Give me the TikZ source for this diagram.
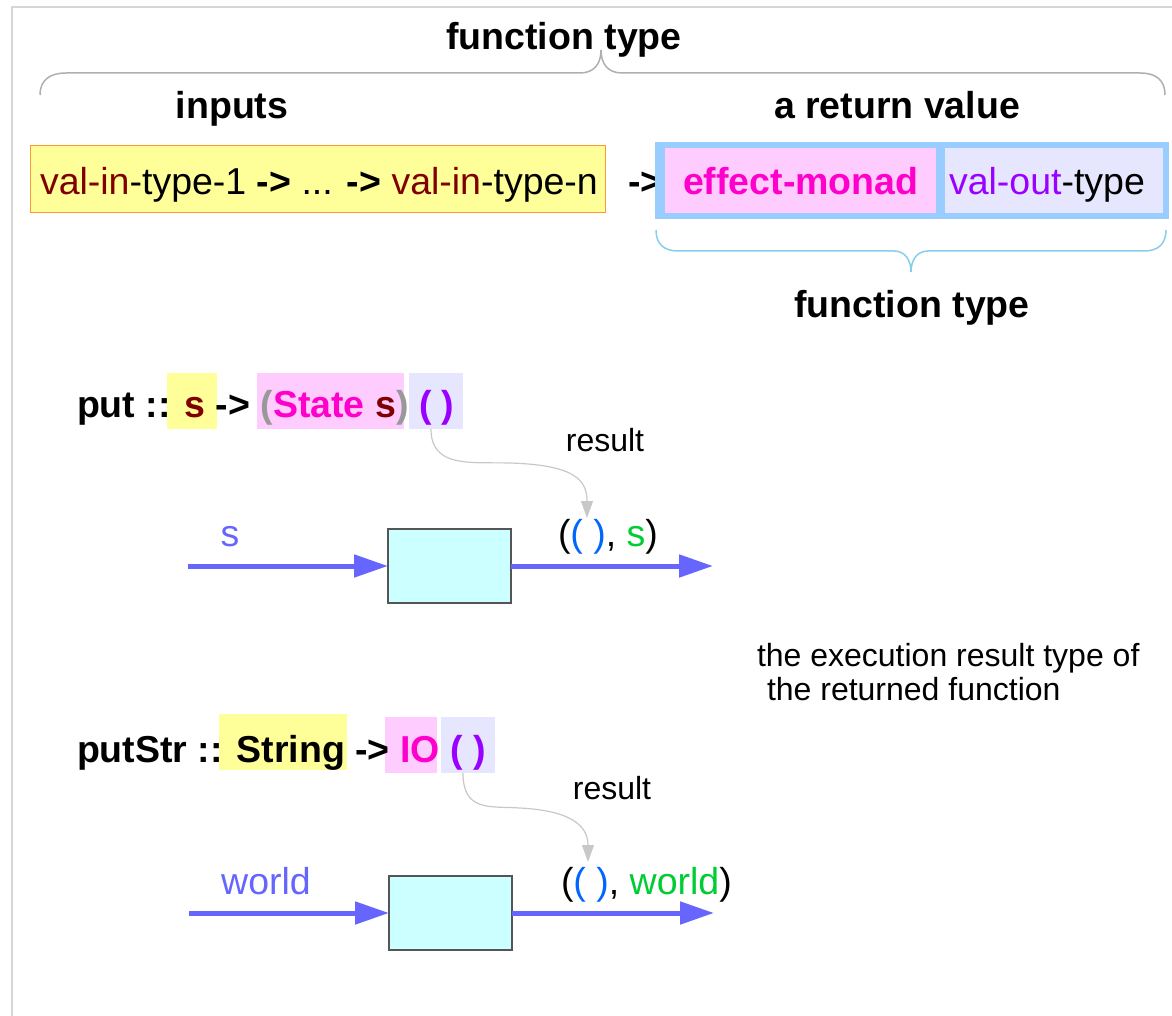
\documentclass[tikz,border=0pt]{standalone}
\usepackage{fontspec}
\setmainfont{Liberation Sans}
\usetikzlibrary{arrows.meta}

\definecolor{framegray}{HTML}{D6D6D6}
\definecolor{bracegray}{HTML}{AFAFAF}
\definecolor{braceblue}{HTML}{88CCEE}
\definecolor{valin}{HTML}{800000}
\definecolor{mag}{HTML}{FF00CC}
\definecolor{cvalout}{HTML}{9900FF}
\definecolor{grayp}{HTML}{999999}
\definecolor{yellowf}{HTML}{FFFF99}
\definecolor{orangeb}{HTML}{FF9933}
\definecolor{pinkf}{HTML}{FFCCFF}
\definecolor{lavf}{HTML}{E6E6FF}
\definecolor{lightblue}{HTML}{99CCFF}
\definecolor{cyanf}{HTML}{CCFFFF}
\definecolor{boxedge}{HTML}{555555}
\definecolor{flowblue}{HTML}{6666FF}
\definecolor{unitblue}{HTML}{0066FF}
\definecolor{grn}{HTML}{00CC33}
\definecolor{resgray}{HTML}{C8C8C8}

\begin{document}
\begin{tikzpicture}[x=1pt,y=-1pt,
  every node/.style={inner sep=0pt,outer sep=0pt},
  bigtext/.style={font=\fontsize{37.5}{44}\selectfont},
  bigbold/.style={font=\fontsize{37.5}{44}\selectfont\bfseries},
  smalltext/.style={font=\fontsize{32}{38}\selectfont},
  hlbox/.style={minimum height=56},
  procbox/.style={draw=boxedge,fill=cyanf,line width=1.2,minimum width=123,minimum height=74},
  flow/.style={draw=flowblue,line width=5,-{Triangle[length=34pt,width=22pt]}},
  resarrow/.style={draw=resgray,line width=1.2,-{Triangle[length=17pt,width=12pt]}},
  brace/.style={line width=1.5}]
\useasboundingbox (0,0) rectangle (1172,1016);

% page frame
\draw[framegray,line width=2.5] (12,1030) -- (12,7) -- (1190,7);

% ---- general signature ----
\node[bigbold,anchor=base] (ftop) at (564,50) {function type};
\draw[brace,bracegray] (40,95) .. controls (40,80) and (50,73) .. (66,73) -- (580,73)
  .. controls (594,73) and (601,64) .. (601,50)
  .. controls (601,64) and (608,73) .. (622,73) -- (1140,73)
  .. controls (1156,73) and (1165,80) .. (1165,95);
\node[bigbold,anchor=base] (inputs) at (232,119) {inputs};
\node[bigbold,anchor=base] (retval) at (897,119) {a return value};

\node[draw=orangeb,fill=yellowf,line width=1,minimum width=575,minimum height=67] (inbox) at (317.5,179.5) {};
\node[bigtext,anchor=base west] (intxt) at (40,195)
  {\textcolor{valin}{val-in}-type-1 \textbf{->} ... \textbf{->} \textcolor{valin}{val-in}-type-n};
\node[bigbold,anchor=base west] (retarrow) at (628,195) {->};

\node[fill=lightblue,minimum width=514,minimum height=77] (retbox) at (912,180.5) {};
\node[fill=pinkf,minimum width=271,minimum height=65] (monadbox) at (800.5,180.5) {};
\node[fill=lavf,minimum width=218,minimum height=65] (valoutbox) at (1054,180.5) {};
\node[bigbold,anchor=base west,text=mag] (monadtxt) at (683,195) {effect-monad};
\node[bigtext,anchor=base west] (valouttxt) at (949,195) {\textcolor{cvalout}{val-out}-type};

\draw[brace,braceblue] (656,230) .. controls (656,244) and (664,251) .. (678,251) -- (894,251)
  .. controls (905,251) and (911,260) .. (911,272)
  .. controls (911,260) and (917,251) .. (928,251) -- (1144,251)
  .. controls (1158,251) and (1166,244) .. (1166,230);
\node[bigbold,anchor=base] (fbottom) at (912,317) {function type};

% ---- put ----
\node[hlbox,fill=yellowf,minimum width=50] (sA) at (192,401) {};
\node[hlbox,fill=pinkf,minimum width=147] (stateA) at (330.5,401) {};
\node[hlbox,fill=lavf,minimum width=54] (unitA) at (436,401) {};
\node[bigbold,anchor=base west] (putsig) at (77,417)
  {put :: \textcolor{valin}{s} -> \textcolor{grayp}{(}\textcolor{mag}{State} \textcolor{valin}{s}\textcolor{grayp}{)} \textcolor{cvalout}{( )}};

\coordinate (resA) at (587,518);
\draw[resarrow] ([xshift=-5pt]unitA.south) .. controls (431,468) and (470,462) .. (510,463)
  .. controls (575,465) and (587,480) .. (resA);
\node[smalltext,anchor=base] (resultA) at (605,451) {result};

\node[procbox] (boxA) at (449.5,566) {};
\coordinate (inA) at (188,566);
\coordinate (outA) at (713,566);
\draw[flow] (inA) -- (boxA.west);
\draw[flow] (boxA.east) -- (outA);
\node[bigtext,anchor=base,text=flowblue] (sin) at (230,546) {s};
\node[bigtext,anchor=base west] (sout) at (558,546)
  {(\textcolor{unitblue}{( )}, \textcolor{grn}{s})};

% ---- note ----
\node[smalltext,anchor=base west] (note1) at (757,666) {the execution result type of};
\node[smalltext,anchor=base west] (note2) at (767,700) {the returned function};

% ---- putStr ----
\node[hlbox,fill=yellowf,minimum width=128] (strB) at (283,742) {};
\node[hlbox,fill=pinkf,minimum width=52] (ioB) at (411,745) {};
\node[hlbox,fill=lavf,minimum width=54] (unitB) at (468,745) {};
\node[bigbold,anchor=base west] (putstrsig) at (77,762)
  {putStr :: String -> \textcolor{mag}{IO} \textcolor{cvalout}{( )}};

\coordinate (resB) at (588,862);
\draw[resarrow] ([xshift=-5pt]unitB.south) .. controls (463,812) and (490,806) .. (520,808)
  .. controls (578,811) and (588,830) .. (resB);
\node[smalltext,anchor=base] (resultB) at (612,799) {result};

\node[procbox] (boxB) at (450.5,913) {};
\coordinate (inB) at (189,913);
\coordinate (outB) at (714,913);
\draw[flow] (inB) -- (boxB.west);
\draw[flow] (boxB.east) -- (outB);
\node[bigtext,anchor=base,text=flowblue] (win) at (266,894) {world};
\node[bigtext,anchor=base west] (wout) at (561,894)
  {(\textcolor{unitblue}{( )}, \textcolor{grn}{world})};
\end{tikzpicture}
\end{document}
